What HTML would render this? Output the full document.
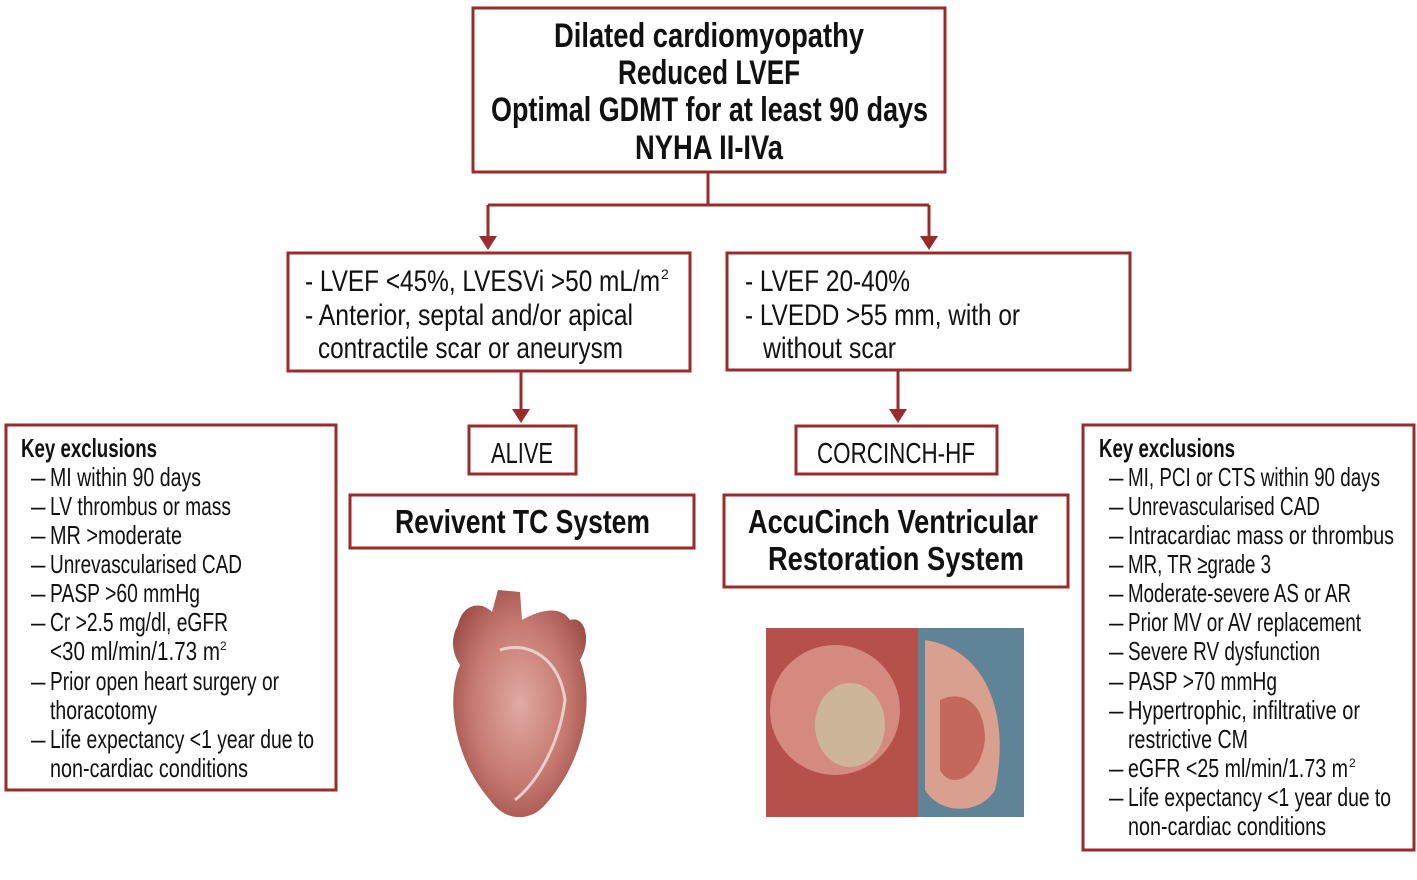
<!DOCTYPE html>
<html><head><meta charset="utf-8"><style>html,body{margin:0;padding:0;background:#fff}svg{display:block}</style></head>
<body>
<svg width="1417" height="880" viewBox="0 0 1417 880" xmlns="http://www.w3.org/2000/svg" font-family="Liberation Sans, sans-serif" fill="#111">
<defs>
<radialGradient id="hg" cx="0.5" cy="0.5" r="0.6"><stop offset="0" stop-color="#e0aaa2"/><stop offset="0.6" stop-color="#c57870"/><stop offset="1" stop-color="#9a4a44"/></radialGradient>
</defs>
<g fill="none" stroke="#9b2b2b" stroke-width="3">
<rect x="473" y="8" width="472" height="164"/>
<rect x="288" y="253" width="402" height="118"/>
<rect x="727" y="253" width="403" height="117"/>
<rect x="469" y="426" width="107" height="48"/>
<rect x="796" y="426" width="201" height="48"/>
<rect x="350" y="495" width="344" height="53"/>
<rect x="724" y="495" width="344" height="92"/>
<rect x="6" y="425" width="330" height="365"/>
<rect x="1083" y="425" width="331" height="425"/>
<path d="M708 172V205M488 205H929M488 205V238M929 205V238M521 371V410M898 370V410"/>
</g>
<g fill="#9b2b2b">
<path d="M479 236h18l-9 14z"/><path d="M920 236h18l-9 14z"/>
<path d="M512 409h18l-9 14z"/><path d="M889 409h18l-9 14z"/>
</g>
<g font-weight="bold" font-size="34">
<text x="554" y="47" textLength="310" lengthAdjust="spacingAndGlyphs">Dilated cardiomyopathy</text>
<text x="618" y="84" textLength="182" lengthAdjust="spacingAndGlyphs">Reduced LVEF</text>
<text x="491" y="121" textLength="437" lengthAdjust="spacingAndGlyphs">Optimal GDMT for at least 90 days</text>
<text x="635" y="159" textLength="148" lengthAdjust="spacingAndGlyphs">NYHA II-IVa</text>
</g>
<g font-size="30">
<text x="305" y="291" textLength="355" lengthAdjust="spacingAndGlyphs">- LVEF &lt;45%, LVESVi &gt;50 mL/m</text><text x="661" y="279" font-size="14">2</text>
<text x="305" y="325" textLength="328" lengthAdjust="spacingAndGlyphs">- Anterior, septal and/or apical</text>
<text x="318" y="358" textLength="305" lengthAdjust="spacingAndGlyphs">contractile scar or aneurysm</text>
<text x="745" y="291" textLength="165" lengthAdjust="spacingAndGlyphs">- LVEF 20-40%</text>
<text x="745" y="325" textLength="275" lengthAdjust="spacingAndGlyphs">- LVEDD &gt;55 mm, with or</text>
<text x="763" y="358" textLength="133" lengthAdjust="spacingAndGlyphs">without scar</text>
<text x="491" y="463" font-size="29" textLength="62" lengthAdjust="spacingAndGlyphs">ALIVE</text>
<text x="817" y="463" font-size="29" textLength="158" lengthAdjust="spacingAndGlyphs">CORCINCH-HF</text>
</g>
<g font-weight="bold" font-size="33">
<text x="395" y="533" textLength="255" lengthAdjust="spacingAndGlyphs">Revivent TC System</text>
<text x="748" y="533" textLength="290" lengthAdjust="spacingAndGlyphs">AccuCinch Ventricular</text>
<text x="768" y="570" textLength="256" lengthAdjust="spacingAndGlyphs">Restoration System</text>
</g>
<g font-size="26">
<text x="21" y="457" font-weight="bold" textLength="136" lengthAdjust="spacingAndGlyphs">Key exclusions</text>
<g><text x="31" y="486">–</text><text x="31" y="515">–</text><text x="31" y="544">–</text><text x="31" y="573">–</text><text x="31" y="602">–</text><text x="31" y="631">–</text><text x="31" y="690">–</text><text x="31" y="748">–</text></g>
<text x="50" y="486" textLength="151" lengthAdjust="spacingAndGlyphs">MI within 90 days</text>
<text x="50" y="515" textLength="181" lengthAdjust="spacingAndGlyphs">LV thrombus or mass</text>
<text x="50" y="544" textLength="132" lengthAdjust="spacingAndGlyphs">MR &gt;moderate</text>
<text x="50" y="573" textLength="192" lengthAdjust="spacingAndGlyphs">Unrevascularised CAD</text>
<text x="50" y="602" textLength="150" lengthAdjust="spacingAndGlyphs">PASP &gt;60 mmHg</text>
<text x="50" y="631" textLength="178" lengthAdjust="spacingAndGlyphs">Cr &gt;2.5 mg/dl, eGFR</text>
<text x="50" y="660" textLength="170" lengthAdjust="spacingAndGlyphs">&lt;30 ml/min/1.73 m</text><text x="220" y="650" font-size="12">2</text>
<text x="50" y="690" textLength="229" lengthAdjust="spacingAndGlyphs">Prior open heart surgery or</text>
<text x="50" y="719" textLength="107" lengthAdjust="spacingAndGlyphs">thoracotomy</text>
<text x="50" y="748" textLength="264" lengthAdjust="spacingAndGlyphs">Life expectancy &lt;1 year due to</text>
<text x="50" y="777" textLength="198" lengthAdjust="spacingAndGlyphs">non-cardiac conditions</text>

<text x="1099" y="457" font-weight="bold" textLength="136" lengthAdjust="spacingAndGlyphs">Key exclusions</text>
<g><text x="1109" y="486">–</text><text x="1109" y="515">–</text><text x="1109" y="544">–</text><text x="1109" y="573">–</text><text x="1109" y="602">–</text><text x="1109" y="631">–</text><text x="1109" y="660">–</text><text x="1109" y="690">–</text><text x="1109" y="719">–</text><text x="1109" y="777">–</text><text x="1109" y="806">–</text></g>
<text x="1128" y="486" textLength="252" lengthAdjust="spacingAndGlyphs">MI, PCI or CTS within 90 days</text>
<text x="1128" y="515" textLength="192" lengthAdjust="spacingAndGlyphs">Unrevascularised CAD</text>
<text x="1128" y="544" textLength="266" lengthAdjust="spacingAndGlyphs">Intracardiac mass or thrombus</text>
<text x="1128" y="573" textLength="143" lengthAdjust="spacingAndGlyphs">MR, TR ≥grade 3</text>
<text x="1128" y="602" textLength="223" lengthAdjust="spacingAndGlyphs">Moderate-severe AS or AR</text>
<text x="1128" y="631" textLength="233" lengthAdjust="spacingAndGlyphs">Prior MV or AV replacement</text>
<text x="1128" y="660" textLength="192" lengthAdjust="spacingAndGlyphs">Severe RV dysfunction</text>
<text x="1128" y="690" textLength="149" lengthAdjust="spacingAndGlyphs">PASP &gt;70 mmHg</text>
<text x="1128" y="719" textLength="232" lengthAdjust="spacingAndGlyphs">Hypertrophic, infiltrative or</text>
<text x="1128" y="748" textLength="120" lengthAdjust="spacingAndGlyphs">restrictive CM</text>
<text x="1128" y="777" textLength="220" lengthAdjust="spacingAndGlyphs">eGFR &lt;25 ml/min/1.73 m</text><text x="1349" y="767" font-size="12">2</text>
<text x="1128" y="806" textLength="263" lengthAdjust="spacingAndGlyphs">Life expectancy &lt;1 year due to</text>
<text x="1128" y="835" textLength="198" lengthAdjust="spacingAndGlyphs">non-cardiac conditions</text>
</g>
<!-- heart image approximation -->
<g>
<path d="M458 625 C462 605 480 600 492 612 L498 590 L520 592 L522 620 C540 610 560 605 570 620 C585 615 592 640 580 660 C595 700 585 760 545 805 C530 822 505 822 490 800 C455 760 445 700 460 665 C450 650 452 635 458 625Z" fill="url(#hg)"/>
<path d="M500 650 C530 640 560 660 565 700 C560 740 540 780 515 800" fill="none" stroke="#e8d0c8" stroke-width="3"/>
</g>
<!-- photo approximation -->
<rect x="766" y="628" width="152" height="189" fill="#b5514a"/>
<ellipse cx="835" cy="710" rx="65" ry="65" fill="#d58a80"/>
<ellipse cx="850" cy="725" rx="35" ry="42" fill="#cdb59a"/>
<rect x="918" y="628" width="106" height="189" fill="#5f8497"/>
<path d="M925 640 C990 650 1010 720 995 790 C980 815 940 815 925 790Z" fill="#d9a08f"/>
<path d="M940 700 C960 690 985 700 985 740 C980 780 950 790 940 770Z" fill="#c4675d"/>
</svg>
</body></html>
